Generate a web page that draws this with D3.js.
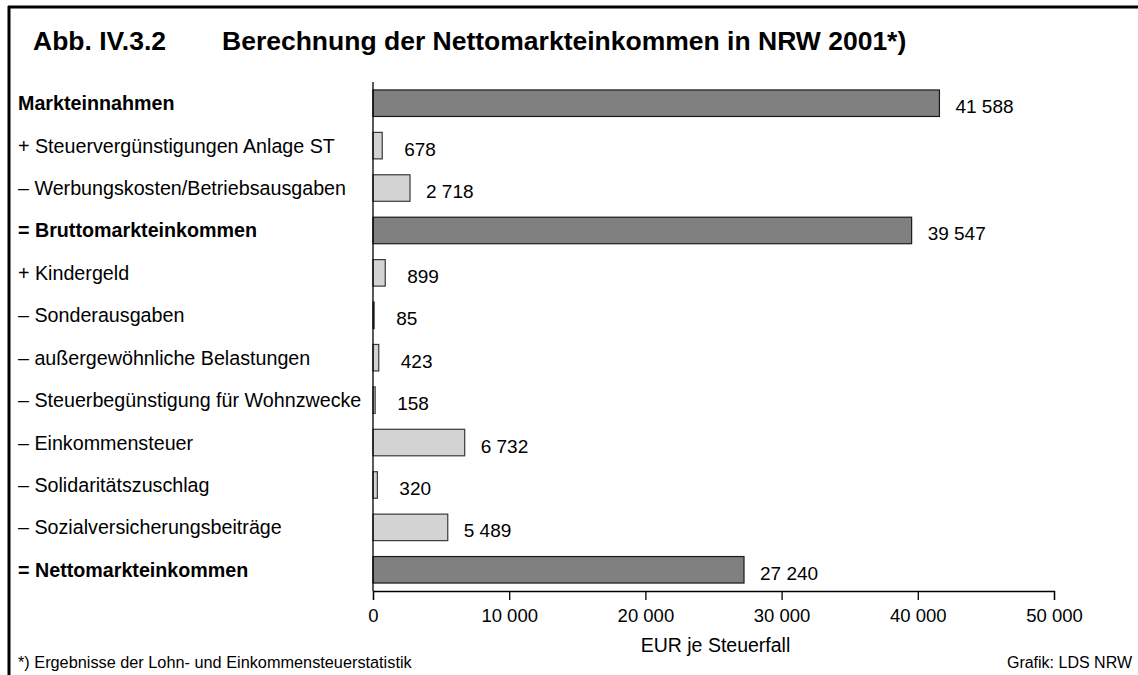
<!DOCTYPE html>
<html lang="de">
<head>
<meta charset="utf-8">
<script src="https://cdn.jsdelivr.net/npm/d3@7"></script>
<style>
  html, body { margin: 0; padding: 0; background: #fff; }
  svg text { font-family: "Liberation Sans", Arial, sans-serif; fill: #000; }
</style>
</head>
<body>
<svg id="chart" width="1138" height="675"></svg>
<script>
// Rechenschritte vom Markteinkommen zum Nettomarkteinkommen (EUR je Steuerfall)
const categories = [
  "Markteinnahmen",
  "+ Steuervergünstigungen Anlage ST",
  "– Werbungskosten/Betriebsausgaben",
  "= Bruttomarkteinkommen",
  "+ Kindergeld",
  "– Sonderausgaben",
  "– außergewöhnliche Belastungen",
  "– Steuerbegünstigung für Wohnzwecke",
  "– Einkommensteuer",
  "– Solidaritätszuschlag",
  "– Sozialversicherungsbeiträge",
  "= Nettomarkteinkommen"
];
const values = [41588, 678, 2718, 39547, 899, 85, 423, 158, 6732, 320, 5489, 27240];
// Summenzeilen (fett, dunkler Balken) vs. Einzelposten
const isTotal = [true, false, false, true, false, false, false, false, false, false, false, true];
const xTicks = [0, 10000, 20000, 30000, 40000, 50000];

const titleNumber = "Abb. IV.3.2";
const titleText = "Berechnung der Nettomarkteinkommen in NRW 2001*)";
const axisTitle = "EUR je Steuerfall";
const footnote = "*) Ergebnisse der Lohn- und Einkommensteuerstatistik";
const source = "Grafik: LDS NRW";

const de = d3.formatLocale({ decimal: ",", thousands: " ", grouping: [3], currency: ["", " €"] });
const fmt = de.format(",d");

const svg = d3.select("#chart");

// Rahmen oben und links
svg.append("line").attr("x1", 8).attr("x2", 1138).attr("y1", 7).attr("y2", 7)
  .attr("stroke", "#000").attr("stroke-width", 3);
svg.append("line").attr("x1", 9).attr("x2", 9).attr("y1", 6).attr("y2", 675)
  .attr("stroke", "#000").attr("stroke-width", 3);

// Titel
svg.append("text").attr("x", 33).attr("y", 50)
  .attr("font-size", 26.5).attr("font-weight", "bold").text(titleNumber);
svg.append("text").attr("x", 222).attr("y", 50)
  .attr("font-size", 26.5).attr("font-weight", "bold").text(titleText);

const x = d3.scaleLinear().domain([0, 50000]).range([373, 1054]);
const y = d3.scaleBand().domain(categories).range([82, 591])
  .paddingInner(0.375).paddingOuter(0.1875);

const rows = categories.map((c, i) => ({ c, v: values[i], total: isTotal[i] }));

// Balken
svg.append("g").selectAll("rect").data(rows).join("rect")
  .attr("x", x(0))
  .attr("y", d => y(d.c))
  .attr("width", d => x(d.v) - x(0))
  .attr("height", y.bandwidth())
  .attr("fill", d => d.total ? "#808080" : "#d3d3d3")
  .attr("stroke", d => d.total ? "#1a1a1a" : "#3a3a3a")
  .attr("stroke-width", 1.2);

// Kategorienbeschriftung
svg.append("g").selectAll("text").data(rows).join("text")
  .attr("x", 18)
  .attr("y", d => y(d.c) + y.bandwidth() / 2 + 7)
  .attr("font-size", 19.7)
  .attr("font-weight", d => d.total ? "bold" : "normal")
  .text(d => d.c);

// Wertebeschriftung
svg.append("g").selectAll("text").data(rows).join("text")
  .attr("x", d => x(d.v) + (d.v < 1000 ? 22 : 16))
  .attr("y", d => y(d.c) + y.bandwidth() / 2 + 10)
  .attr("font-size", 19)
  .text(d => fmt(d.v));

// y-Achse (Linie ohne Striche)
svg.append("line").attr("x1", x(0)).attr("x2", x(0)).attr("y1", 82).attr("y2", 591)
  .attr("stroke", "#000").attr("stroke-width", 1.3);

// x-Achse
const xAxis = d3.axisBottom(x).tickValues(xTicks).tickFormat(fmt).tickSize(9).tickPadding(9);
const gx = svg.append("g").attr("transform", "translate(0,591)").call(xAxis);
gx.select(".domain").attr("stroke", "#000").attr("stroke-width", 1.3);
gx.selectAll(".tick line").attr("stroke", "#000").attr("stroke-width", 1.3);
gx.selectAll(".tick text").attr("font-size", 18.5).attr("font-family", null).attr("fill", "#000");

svg.append("text").attr("x", (x.range()[0] + x.range()[1]) / 2 + 2).attr("y", 652)
  .attr("text-anchor", "middle").attr("font-size", 19.5).text(axisTitle);

// Fußzeile
svg.append("text").attr("x", 18).attr("y", 668).attr("font-size", 16.3).text(footnote);
svg.append("text").attr("x", 1132).attr("y", 668).attr("text-anchor", "end")
  .attr("font-size", 16).text(source);
</script>
</body>
</html>
